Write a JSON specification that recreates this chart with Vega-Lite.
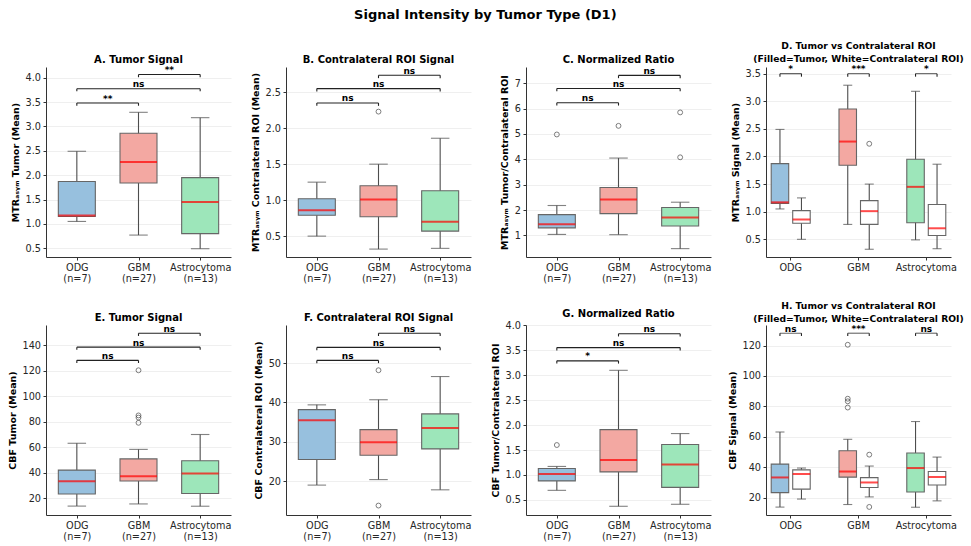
{
 "$schema": "https://vega.github.io/schema/vega-lite/v6.json",
 "padding": {"left": 7, "top": 9, "right": 5, "bottom": 5},
 "title": {"text": "Signal Intensity by Tumor Type (D1)", "fontSize": 13, "offset": 20, "anchor": "middle"},
 "columns": 4,
 "spacing": {"row": 68, "column": 55},
 "bounds": "flush",
 "datasets": {
  "boxes": [
   {"panel":"A","group":"ODG","series":"Tumor","lo":1.05,"q1":1.15,"med":1.17,"q3":1.87,"hi":2.49},
   {"panel":"A","group":"GBM","series":"Tumor","lo":0.77,"q1":1.84,"med":2.27,"q3":2.86,"hi":3.29},
   {"panel":"A","group":"Astrocytoma","series":"Tumor","lo":0.49,"q1":0.80,"med":1.45,"q3":1.95,"hi":3.18},
   {"panel":"B","group":"ODG","series":"Contra","lo":0.50,"q1":0.79,"med":0.86,"q3":1.02,"hi":1.25},
   {"panel":"B","group":"GBM","series":"Contra","lo":0.32,"q1":0.77,"med":1.01,"q3":1.20,"hi":1.50},
   {"panel":"B","group":"Astrocytoma","series":"Contra","lo":0.33,"q1":0.57,"med":0.70,"q3":1.13,"hi":1.86},
   {"panel":"C","group":"ODG","series":"Ratio","lo":1.04,"q1":1.30,"med":1.44,"q3":1.82,"hi":2.18},
   {"panel":"C","group":"GBM","series":"Ratio","lo":1.03,"q1":1.86,"med":2.42,"q3":2.89,"hi":4.05},
   {"panel":"C","group":"Astrocytoma","series":"Ratio","lo":0.48,"q1":1.37,"med":1.71,"q3":2.10,"hi":2.31},
   {"panel":"D","group":"ODG","series":"Tumor","lo":1.05,"q1":1.15,"med":1.17,"q3":1.87,"hi":2.49},
   {"panel":"D","group":"GBM","series":"Tumor","lo":0.77,"q1":1.84,"med":2.27,"q3":2.86,"hi":3.29},
   {"panel":"D","group":"Astrocytoma","series":"Tumor","lo":0.49,"q1":0.80,"med":1.45,"q3":1.95,"hi":3.18},
   {"panel":"D","group":"ODG","series":"Contra","lo":0.50,"q1":0.79,"med":0.86,"q3":1.02,"hi":1.25},
   {"panel":"D","group":"GBM","series":"Contra","lo":0.32,"q1":0.77,"med":1.01,"q3":1.20,"hi":1.50},
   {"panel":"D","group":"Astrocytoma","series":"Contra","lo":0.33,"q1":0.57,"med":0.70,"q3":1.13,"hi":1.86},
   {"panel":"E","group":"ODG","series":"Tumor","lo":13.7,"q1":23.2,"med":33.2,"q3":42.0,"hi":63.1},
   {"panel":"E","group":"GBM","series":"Tumor","lo":15.4,"q1":33.4,"med":37.1,"q3":50.8,"hi":58.3},
   {"panel":"E","group":"Astrocytoma","series":"Tumor","lo":13.6,"q1":23.6,"med":39.4,"q3":49.3,"hi":70.0},
   {"panel":"F","group":"ODG","series":"Contra","lo":19.0,"q1":25.5,"med":35.5,"q3":38.2,"hi":39.4},
   {"panel":"F","group":"GBM","series":"Contra","lo":20.4,"q1":26.6,"med":29.9,"q3":33.1,"hi":40.7},
   {"panel":"F","group":"Astrocytoma","series":"Contra","lo":17.8,"q1":28.2,"med":33.5,"q3":37.1,"hi":46.6},
   {"panel":"G","group":"ODG","series":"Ratio","lo":0.69,"q1":0.88,"med":1.02,"q3":1.13,"hi":1.17},
   {"panel":"G","group":"GBM","series":"Ratio","lo":0.37,"q1":1.06,"med":1.30,"q3":1.91,"hi":3.10},
   {"panel":"G","group":"Astrocytoma","series":"Ratio","lo":0.41,"q1":0.75,"med":1.21,"q3":1.61,"hi":1.83},
   {"panel":"H","group":"ODG","series":"Tumor","lo":13.7,"q1":23.2,"med":33.2,"q3":42.0,"hi":63.1},
   {"panel":"H","group":"GBM","series":"Tumor","lo":15.4,"q1":33.4,"med":37.1,"q3":50.8,"hi":58.3},
   {"panel":"H","group":"Astrocytoma","series":"Tumor","lo":13.6,"q1":23.6,"med":39.4,"q3":49.3,"hi":70.0},
   {"panel":"H","group":"ODG","series":"Contra","lo":19.0,"q1":25.5,"med":35.5,"q3":38.2,"hi":39.4},
   {"panel":"H","group":"GBM","series":"Contra","lo":20.4,"q1":26.6,"med":29.9,"q3":33.1,"hi":40.7},
   {"panel":"H","group":"Astrocytoma","series":"Contra","lo":17.8,"q1":28.2,"med":33.5,"q3":37.1,"hi":46.6}
  ],
  "outliers": [
   {"panel":"B","group":"GBM","series":"Contra","value":2.23},
   {"panel":"C","group":"ODG","series":"Ratio","value":4.98},
   {"panel":"C","group":"GBM","series":"Ratio","value":5.32},
   {"panel":"C","group":"Astrocytoma","series":"Ratio","value":5.85},
   {"panel":"C","group":"Astrocytoma","series":"Ratio","value":4.08},
   {"panel":"D","group":"GBM","series":"Contra","value":2.23},
   {"panel":"E","group":"GBM","series":"Tumor","value":120.5},
   {"panel":"E","group":"GBM","series":"Tumor","value":85.0},
   {"panel":"E","group":"GBM","series":"Tumor","value":83.3},
   {"panel":"E","group":"GBM","series":"Tumor","value":79.2},
   {"panel":"F","group":"GBM","series":"Contra","value":48.2},
   {"panel":"F","group":"GBM","series":"Contra","value":13.8},
   {"panel":"G","group":"ODG","series":"Ratio","value":1.60},
   {"panel":"H","group":"GBM","series":"Tumor","value":120.5},
   {"panel":"H","group":"GBM","series":"Tumor","value":85.0},
   {"panel":"H","group":"GBM","series":"Tumor","value":83.3},
   {"panel":"H","group":"GBM","series":"Tumor","value":79.2},
   {"panel":"H","group":"GBM","series":"Contra","value":48.2},
   {"panel":"H","group":"GBM","series":"Contra","value":13.8}
  ],
  "brackets": [
   {"panel":"A","g1":"ODG","g2":"GBM","mid":"ODG-GBM","y":3.48,"tip":3.425,"label":"**"},
   {"panel":"A","g1":"ODG","g2":"Astrocytoma","mid":"GBM","y":3.775,"tip":3.72,"label":"ns"},
   {"panel":"A","g1":"GBM","g2":"Astrocytoma","mid":"GBM-Astrocytoma","y":4.065,"tip":4.01,"label":"**"},
   {"panel":"B","g1":"ODG","g2":"GBM","mid":"ODG-GBM","y":2.35,"tip":2.31,"label":"ns"},
   {"panel":"B","g1":"ODG","g2":"Astrocytoma","mid":"GBM","y":2.55,"tip":2.51,"label":"ns"},
   {"panel":"B","g1":"GBM","g2":"Astrocytoma","mid":"GBM-Astrocytoma","y":2.735,"tip":2.695,"label":"ns"},
   {"panel":"C","g1":"ODG","g2":"GBM","mid":"ODG-GBM","y":6.23,"tip":6.12,"label":"ns"},
   {"panel":"C","g1":"ODG","g2":"Astrocytoma","mid":"GBM","y":6.79,"tip":6.68,"label":"ns"},
   {"panel":"C","g1":"GBM","g2":"Astrocytoma","mid":"GBM-Astrocytoma","y":7.31,"tip":7.2,"label":"ns"},
   {"panel":"E","g1":"ODG","g2":"GBM","mid":"ODG-GBM","y":128.3,"tip":126.2,"label":"ns"},
   {"panel":"E","g1":"ODG","g2":"Astrocytoma","mid":"GBM","y":138.7,"tip":136.6,"label":"ns"},
   {"panel":"E","g1":"GBM","g2":"Astrocytoma","mid":"GBM-Astrocytoma","y":149.6,"tip":147.5,"label":"ns"},
   {"panel":"F","g1":"ODG","g2":"GBM","mid":"ODG-GBM","y":50.7,"tip":50.0,"label":"ns"},
   {"panel":"F","g1":"ODG","g2":"Astrocytoma","mid":"GBM","y":54.0,"tip":53.3,"label":"ns"},
   {"panel":"F","g1":"GBM","g2":"Astrocytoma","mid":"GBM-Astrocytoma","y":57.6,"tip":56.9,"label":"ns"},
   {"panel":"G","g1":"ODG","g2":"GBM","mid":"ODG-GBM","y":3.29,"tip":3.235,"label":"*"},
   {"panel":"G","g1":"ODG","g2":"Astrocytoma","mid":"GBM","y":3.556,"tip":3.5,"label":"ns"},
   {"panel":"G","g1":"GBM","g2":"Astrocytoma","mid":"GBM-Astrocytoma","y":3.834,"tip":3.78,"label":"ns"}
  ],
  "pairs": [
   {"panel":"D","group":"ODG","left":"Tumor","right":"Contra","y":3.5,"tip":3.445,"label":"*"},
   {"panel":"D","group":"GBM","left":"Tumor","right":"Contra","y":3.5,"tip":3.445,"label":"***"},
   {"panel":"D","group":"Astrocytoma","left":"Tumor","right":"Contra","y":3.5,"tip":3.445,"label":"*"},
   {"panel":"H","group":"ODG","left":"Tumor","right":"Contra","y":128.1,"tip":126.3,"label":"ns"},
   {"panel":"H","group":"GBM","left":"Tumor","right":"Contra","y":128.1,"tip":126.3,"label":"***"},
   {"panel":"H","group":"Astrocytoma","left":"Tumor","right":"Contra","y":128.1,"tip":126.3,"label":"ns"}
  ]
 },
 "concat": [
  {"width":185,"height":190,"title":{"text":"A. Tumor Signal"},
   "layer":[
    {"data":{"name":"boxes"},"transform":[{"filter":"datum.panel=='A'"}],
     "mark":{"type":"rule","color":"#4d4d4d","strokeWidth":1.1},
     "encoding":{
      "x":{"field":"group","type":"nominal","scale":{"type":"point","domain":["ODG","ODG-GBM","GBM","GBM-Astrocytoma","Astrocytoma"],"padding":1},"axis":{"values":["ODG","GBM","Astrocytoma"],"labelExpr":"datum.value=='ODG'?['ODG','(n=7)']:datum.value=='GBM'?['GBM','(n=27)']:['Astrocytoma','(n=13)']","title":null}},
      "y":{"field":"lo","type":"quantitative","scale":{"domain":[0.32,4.22],"nice":false,"zero":false},"axis":{"values":[0.5,1,1.5,2,2.5,3,3.5,4],"tickCount":30,"format":".1f","title":"MTRₐₛᵧₘ Tumor (Mean)"}},
      "y2":{"field":"hi"}}},
    {"data":{"name":"boxes"},"transform":[{"filter":"datum.panel=='A'"},{"fold":["lo","hi"],"as":["end","v"]}],
     "mark":{"type":"tick","color":"#4d4d4d","thickness":1.1,"size":18.5},
     "encoding":{"x":{"field":"group","type":"nominal"},"y":{"field":"v","type":"quantitative"}}},
    {"data":{"name":"boxes"},"transform":[{"filter":"datum.panel=='A'"}],
     "mark":{"type":"bar","width":37,"stroke":"#666666","strokeWidth":1.1},
     "encoding":{"x":{"field":"group","type":"nominal"},"y":{"field":"q1","type":"quantitative"},"y2":{"field":"q3"},
      "color":{"field":"group","type":"nominal","scale":{"domain":["ODG","GBM","Astrocytoma"],"range":["#97c0de","#f3a8a2","#9de6ba"]},"legend":null}}},
    {"data":{"name":"boxes"},"transform":[{"filter":"datum.panel=='A'"}],
     "mark":{"type":"tick","color":"#ff0000","thickness":2,"size":37},
     "encoding":{"x":{"field":"group","type":"nominal"},"y":{"field":"med","type":"quantitative"}}},
    {"data":{"name":"outliers"},"transform":[{"filter":"datum.panel=='A'"}],
     "mark":{"type":"point","shape":"circle","filled":false,"color":"#333333","size":24,"strokeWidth":0.9},
     "encoding":{"x":{"field":"group","type":"nominal"},"y":{"field":"value","type":"quantitative"}}},
    {"data":{"name":"brackets"},"transform":[{"filter":"datum.panel=='A'"}],
     "mark":{"type":"rule","color":"#222222","strokeWidth":1.1},
     "encoding":{"x":{"field":"g1","type":"nominal"},"x2":{"field":"g2"},"y":{"field":"y","type":"quantitative"}}},
    {"data":{"name":"brackets"},"transform":[{"filter":"datum.panel=='A'"},{"fold":["g1","g2"],"as":["end","gx"]}],
     "mark":{"type":"rule","color":"#222222","strokeWidth":1.1},
     "encoding":{"x":{"field":"gx","type":"nominal"},"y":{"field":"y","type":"quantitative"},"y2":{"field":"tip"}}},
    {"data":{"name":"brackets"},"transform":[{"filter":"datum.panel=='A'"}],
     "mark":{"type":"text","fontSize":9,"fontWeight":"bold","baseline":"alphabetic","dy":-1.5,"color":"#000"},
     "encoding":{"x":{"field":"mid","type":"nominal"},"y":{"field":"y","type":"quantitative"},"text":{"field":"label"}}}
   ]},
  {"width":185,"height":190,"title":{"text":"B. Contralateral ROI Signal"},
   "layer":[
    {"data":{"name":"boxes"},"transform":[{"filter":"datum.panel=='B'"}],
     "mark":{"type":"rule","color":"#4d4d4d","strokeWidth":1.1},
     "encoding":{
      "x":{"field":"group","type":"nominal","scale":{"type":"point","domain":["ODG","ODG-GBM","GBM","GBM-Astrocytoma","Astrocytoma"],"padding":1},"axis":{"values":["ODG","GBM","Astrocytoma"],"labelExpr":"datum.value=='ODG'?['ODG','(n=7)']:datum.value=='GBM'?['GBM','(n=27)']:['Astrocytoma','(n=13)']","title":null}},
      "y":{"field":"lo","type":"quantitative","scale":{"domain":[0.21,2.85],"nice":false,"zero":false},"axis":{"values":[0.5,1,1.5,2,2.5],"tickCount":30,"format":".1f","title":"MTRₐₛᵧₘ Contralateral ROI (Mean)"}},
      "y2":{"field":"hi"}}},
    {"data":{"name":"boxes"},"transform":[{"filter":"datum.panel=='B'"},{"fold":["lo","hi"],"as":["end","v"]}],
     "mark":{"type":"tick","color":"#4d4d4d","thickness":1.1,"size":18.5},
     "encoding":{"x":{"field":"group","type":"nominal"},"y":{"field":"v","type":"quantitative"}}},
    {"data":{"name":"boxes"},"transform":[{"filter":"datum.panel=='B'"}],
     "mark":{"type":"bar","width":37,"stroke":"#666666","strokeWidth":1.1},
     "encoding":{"x":{"field":"group","type":"nominal"},"y":{"field":"q1","type":"quantitative"},"y2":{"field":"q3"},
      "color":{"field":"group","type":"nominal","scale":{"domain":["ODG","GBM","Astrocytoma"],"range":["#97c0de","#f3a8a2","#9de6ba"]},"legend":null}}},
    {"data":{"name":"boxes"},"transform":[{"filter":"datum.panel=='B'"}],
     "mark":{"type":"tick","color":"#ff0000","thickness":2,"size":37},
     "encoding":{"x":{"field":"group","type":"nominal"},"y":{"field":"med","type":"quantitative"}}},
    {"data":{"name":"outliers"},"transform":[{"filter":"datum.panel=='B'"}],
     "mark":{"type":"point","shape":"circle","filled":false,"color":"#333333","size":24,"strokeWidth":0.9},
     "encoding":{"x":{"field":"group","type":"nominal"},"y":{"field":"value","type":"quantitative"}}},
    {"data":{"name":"brackets"},"transform":[{"filter":"datum.panel=='B'"}],
     "mark":{"type":"rule","color":"#222222","strokeWidth":1.1},
     "encoding":{"x":{"field":"g1","type":"nominal"},"x2":{"field":"g2"},"y":{"field":"y","type":"quantitative"}}},
    {"data":{"name":"brackets"},"transform":[{"filter":"datum.panel=='B'"},{"fold":["g1","g2"],"as":["end","gx"]}],
     "mark":{"type":"rule","color":"#222222","strokeWidth":1.1},
     "encoding":{"x":{"field":"gx","type":"nominal"},"y":{"field":"y","type":"quantitative"},"y2":{"field":"tip"}}},
    {"data":{"name":"brackets"},"transform":[{"filter":"datum.panel=='B'"}],
     "mark":{"type":"text","fontSize":9,"fontWeight":"bold","baseline":"alphabetic","dy":-1.5,"color":"#000"},
     "encoding":{"x":{"field":"mid","type":"nominal"},"y":{"field":"y","type":"quantitative"},"text":{"field":"label"}}}
   ]},
  {"width":185,"height":190,"title":{"text":"C. Normalized Ratio"},
   "layer":[
    {"data":{"name":"boxes"},"transform":[{"filter":"datum.panel=='C'"}],
     "mark":{"type":"rule","color":"#4d4d4d","strokeWidth":1.1},
     "encoding":{
      "x":{"field":"group","type":"nominal","scale":{"type":"point","domain":["ODG","ODG-GBM","GBM","GBM-Astrocytoma","Astrocytoma"],"padding":1},"axis":{"values":["ODG","GBM","Astrocytoma"],"labelExpr":"datum.value=='ODG'?['ODG','(n=7)']:datum.value=='GBM'?['GBM','(n=27)']:['Astrocytoma','(n=13)']","title":null}},
      "y":{"field":"lo","type":"quantitative","scale":{"domain":[0.15,7.64],"nice":false,"zero":false},"axis":{"values":[1,2,3,4,5,6,7],"tickCount":30,"format":"d","title":"MTRₐₛᵧₘ Tumor/Contralateral ROI"}},
      "y2":{"field":"hi"}}},
    {"data":{"name":"boxes"},"transform":[{"filter":"datum.panel=='C'"},{"fold":["lo","hi"],"as":["end","v"]}],
     "mark":{"type":"tick","color":"#4d4d4d","thickness":1.1,"size":18.5},
     "encoding":{"x":{"field":"group","type":"nominal"},"y":{"field":"v","type":"quantitative"}}},
    {"data":{"name":"boxes"},"transform":[{"filter":"datum.panel=='C'"}],
     "mark":{"type":"bar","width":37,"stroke":"#666666","strokeWidth":1.1},
     "encoding":{"x":{"field":"group","type":"nominal"},"y":{"field":"q1","type":"quantitative"},"y2":{"field":"q3"},
      "color":{"field":"group","type":"nominal","scale":{"domain":["ODG","GBM","Astrocytoma"],"range":["#97c0de","#f3a8a2","#9de6ba"]},"legend":null}}},
    {"data":{"name":"boxes"},"transform":[{"filter":"datum.panel=='C'"}],
     "mark":{"type":"tick","color":"#ff0000","thickness":2,"size":37},
     "encoding":{"x":{"field":"group","type":"nominal"},"y":{"field":"med","type":"quantitative"}}},
    {"data":{"name":"outliers"},"transform":[{"filter":"datum.panel=='C'"}],
     "mark":{"type":"point","shape":"circle","filled":false,"color":"#333333","size":24,"strokeWidth":0.9},
     "encoding":{"x":{"field":"group","type":"nominal"},"y":{"field":"value","type":"quantitative"}}},
    {"data":{"name":"brackets"},"transform":[{"filter":"datum.panel=='C'"}],
     "mark":{"type":"rule","color":"#222222","strokeWidth":1.1},
     "encoding":{"x":{"field":"g1","type":"nominal"},"x2":{"field":"g2"},"y":{"field":"y","type":"quantitative"}}},
    {"data":{"name":"brackets"},"transform":[{"filter":"datum.panel=='C'"},{"fold":["g1","g2"],"as":["end","gx"]}],
     "mark":{"type":"rule","color":"#222222","strokeWidth":1.1},
     "encoding":{"x":{"field":"gx","type":"nominal"},"y":{"field":"y","type":"quantitative"},"y2":{"field":"tip"}}},
    {"data":{"name":"brackets"},"transform":[{"filter":"datum.panel=='C'"}],
     "mark":{"type":"text","fontSize":9,"fontWeight":"bold","baseline":"alphabetic","dy":-1.5,"color":"#000"},
     "encoding":{"x":{"field":"mid","type":"nominal"},"y":{"field":"y","type":"quantitative"},"text":{"field":"label"}}}
   ]},
  {"width":185,"height":190,"title":{"text":["D. Tumor vs Contralateral ROI","(Filled=Tumor, White=Contralateral ROI)"],"fontSize":9.2,"offset":0.5},
   "layer":[
    {"data":{"name":"boxes"},"transform":[{"filter":"datum.panel=='D'"}],
     "mark":{"type":"rule","color":"#4d4d4d","strokeWidth":1.1},
     "encoding":{
      "x":{"field":"group","type":"nominal","scale":{"type":"band","domain":["ODG","GBM","Astrocytoma"],"paddingInner":0.271,"paddingOuter":0},"axis":{"title":null}},
      "xOffset":{"field":"series","type":"nominal","scale":{"domain":["Tumor","Contra"],"paddingInner":0,"paddingOuter":0.149}},
      "y":{"field":"lo","type":"quantitative","scale":{"domain":[0.18,3.62],"nice":false,"zero":false},"axis":{"values":[0.5,1,1.5,2,2.5,3,3.5],"tickCount":30,"format":".1f","title":"MTRₐₛᵧₘ Signal (Mean)"}},
      "y2":{"field":"hi"}}},
    {"data":{"name":"boxes"},"transform":[{"filter":"datum.panel=='D'"},{"fold":["lo","hi"],"as":["end","v"]}],
     "mark":{"type":"tick","color":"#4d4d4d","thickness":1.1,"size":9},
     "encoding":{"x":{"field":"group","type":"nominal"},"xOffset":{"field":"series","type":"nominal"},"y":{"field":"v","type":"quantitative"}}},
    {"data":{"name":"boxes"},"transform":[{"filter":"datum.panel=='D'"}],
     "mark":{"type":"bar","width":17.5,"stroke":"#666666","strokeWidth":1.1},
     "encoding":{"x":{"field":"group","type":"nominal"},"xOffset":{"field":"series","type":"nominal"},"y":{"field":"q1","type":"quantitative"},"y2":{"field":"q3"},
      "color":{"condition":{"test":"datum.series=='Contra'","value":"#ffffff"},"field":"group","type":"nominal","scale":{"domain":["ODG","GBM","Astrocytoma"],"range":["#97c0de","#f3a8a2","#9de6ba"]},"legend":null}}},
    {"data":{"name":"boxes"},"transform":[{"filter":"datum.panel=='D'"}],
     "mark":{"type":"tick","color":"#ff0000","thickness":2,"size":17.5},
     "encoding":{"x":{"field":"group","type":"nominal"},"xOffset":{"field":"series","type":"nominal"},"y":{"field":"med","type":"quantitative"}}},
    {"data":{"name":"outliers"},"transform":[{"filter":"datum.panel=='D'"}],
     "mark":{"type":"point","shape":"circle","filled":false,"color":"#333333","size":24,"strokeWidth":0.9},
     "encoding":{"x":{"field":"group","type":"nominal"},"xOffset":{"field":"series","type":"nominal"},"y":{"field":"value","type":"quantitative"}}},
    {"data":{"name":"pairs"},"transform":[{"filter":"datum.panel=='D'"}],
     "mark":{"type":"tick","color":"#222222","thickness":1.1,"size":21.5},
     "encoding":{"x":{"field":"group","type":"nominal"},"y":{"field":"y","type":"quantitative"}}},
    {"data":{"name":"pairs"},"transform":[{"filter":"datum.panel=='D'"},{"fold":["left","right"],"as":["end","side"]}],
     "mark":{"type":"rule","color":"#222222","strokeWidth":1.1},
     "encoding":{"x":{"field":"group","type":"nominal"},"xOffset":{"field":"side","type":"nominal"},"y":{"field":"y","type":"quantitative"},"y2":{"field":"tip"}}},
    {"data":{"name":"pairs"},"transform":[{"filter":"datum.panel=='D'"}],
     "mark":{"type":"text","fontSize":9,"fontWeight":"bold","baseline":"alphabetic","dy":-1.5,"color":"#000"},
     "encoding":{"x":{"field":"group","type":"nominal"},"y":{"field":"y","type":"quantitative"},"text":{"field":"label"}}}
   ]},
  {"width":185,"height":190,"title":{"text":"E. Tumor Signal"},
   "layer":[
    {"data":{"name":"boxes"},"transform":[{"filter":"datum.panel=='E'"}],
     "mark":{"type":"rule","color":"#4d4d4d","strokeWidth":1.1},
     "encoding":{
      "x":{"field":"group","type":"nominal","scale":{"type":"point","domain":["ODG","ODG-GBM","GBM","GBM-Astrocytoma","Astrocytoma"],"padding":1},"axis":{"values":["ODG","GBM","Astrocytoma"],"labelExpr":"datum.value=='ODG'?['ODG','(n=7)']:datum.value=='GBM'?['GBM','(n=27)']:['Astrocytoma','(n=13)']","title":null}},
      "y":{"field":"lo","type":"quantitative","scale":{"domain":[6.7,156.1],"nice":false,"zero":false},"axis":{"values":[20,40,60,80,100,120,140],"tickCount":30,"format":"d","title":"CBF Tumor (Mean)"}},
      "y2":{"field":"hi"}}},
    {"data":{"name":"boxes"},"transform":[{"filter":"datum.panel=='E'"},{"fold":["lo","hi"],"as":["end","v"]}],
     "mark":{"type":"tick","color":"#4d4d4d","thickness":1.1,"size":18.5},
     "encoding":{"x":{"field":"group","type":"nominal"},"y":{"field":"v","type":"quantitative"}}},
    {"data":{"name":"boxes"},"transform":[{"filter":"datum.panel=='E'"}],
     "mark":{"type":"bar","width":37,"stroke":"#666666","strokeWidth":1.1},
     "encoding":{"x":{"field":"group","type":"nominal"},"y":{"field":"q1","type":"quantitative"},"y2":{"field":"q3"},
      "color":{"field":"group","type":"nominal","scale":{"domain":["ODG","GBM","Astrocytoma"],"range":["#97c0de","#f3a8a2","#9de6ba"]},"legend":null}}},
    {"data":{"name":"boxes"},"transform":[{"filter":"datum.panel=='E'"}],
     "mark":{"type":"tick","color":"#ff0000","thickness":2,"size":37},
     "encoding":{"x":{"field":"group","type":"nominal"},"y":{"field":"med","type":"quantitative"}}},
    {"data":{"name":"outliers"},"transform":[{"filter":"datum.panel=='E'"}],
     "mark":{"type":"point","shape":"circle","filled":false,"color":"#333333","size":24,"strokeWidth":0.9},
     "encoding":{"x":{"field":"group","type":"nominal"},"y":{"field":"value","type":"quantitative"}}},
    {"data":{"name":"brackets"},"transform":[{"filter":"datum.panel=='E'"}],
     "mark":{"type":"rule","color":"#222222","strokeWidth":1.1},
     "encoding":{"x":{"field":"g1","type":"nominal"},"x2":{"field":"g2"},"y":{"field":"y","type":"quantitative"}}},
    {"data":{"name":"brackets"},"transform":[{"filter":"datum.panel=='E'"},{"fold":["g1","g2"],"as":["end","gx"]}],
     "mark":{"type":"rule","color":"#222222","strokeWidth":1.1},
     "encoding":{"x":{"field":"gx","type":"nominal"},"y":{"field":"y","type":"quantitative"},"y2":{"field":"tip"}}},
    {"data":{"name":"brackets"},"transform":[{"filter":"datum.panel=='E'"}],
     "mark":{"type":"text","fontSize":9,"fontWeight":"bold","baseline":"alphabetic","dy":-1.5,"color":"#000"},
     "encoding":{"x":{"field":"mid","type":"nominal"},"y":{"field":"y","type":"quantitative"},"text":{"field":"label"}}}
   ]},
  {"width":185,"height":190,"title":{"text":"F. Contralateral ROI Signal"},
   "layer":[
    {"data":{"name":"boxes"},"transform":[{"filter":"datum.panel=='F'"}],
     "mark":{"type":"rule","color":"#4d4d4d","strokeWidth":1.1},
     "encoding":{
      "x":{"field":"group","type":"nominal","scale":{"type":"point","domain":["ODG","ODG-GBM","GBM","GBM-Astrocytoma","Astrocytoma"],"padding":1},"axis":{"values":["ODG","GBM","Astrocytoma"],"labelExpr":"datum.value=='ODG'?['ODG','(n=7)']:datum.value=='GBM'?['GBM','(n=27)']:['Astrocytoma','(n=13)']","title":null}},
      "y":{"field":"lo","type":"quantitative","scale":{"domain":[11.4,59.7],"nice":false,"zero":false},"axis":{"values":[20,30,40,50],"tickCount":30,"format":"d","title":"CBF Contralateral ROI (Mean)"}},
      "y2":{"field":"hi"}}},
    {"data":{"name":"boxes"},"transform":[{"filter":"datum.panel=='F'"},{"fold":["lo","hi"],"as":["end","v"]}],
     "mark":{"type":"tick","color":"#4d4d4d","thickness":1.1,"size":18.5},
     "encoding":{"x":{"field":"group","type":"nominal"},"y":{"field":"v","type":"quantitative"}}},
    {"data":{"name":"boxes"},"transform":[{"filter":"datum.panel=='F'"}],
     "mark":{"type":"bar","width":37,"stroke":"#666666","strokeWidth":1.1},
     "encoding":{"x":{"field":"group","type":"nominal"},"y":{"field":"q1","type":"quantitative"},"y2":{"field":"q3"},
      "color":{"field":"group","type":"nominal","scale":{"domain":["ODG","GBM","Astrocytoma"],"range":["#97c0de","#f3a8a2","#9de6ba"]},"legend":null}}},
    {"data":{"name":"boxes"},"transform":[{"filter":"datum.panel=='F'"}],
     "mark":{"type":"tick","color":"#ff0000","thickness":2,"size":37},
     "encoding":{"x":{"field":"group","type":"nominal"},"y":{"field":"med","type":"quantitative"}}},
    {"data":{"name":"outliers"},"transform":[{"filter":"datum.panel=='F'"}],
     "mark":{"type":"point","shape":"circle","filled":false,"color":"#333333","size":24,"strokeWidth":0.9},
     "encoding":{"x":{"field":"group","type":"nominal"},"y":{"field":"value","type":"quantitative"}}},
    {"data":{"name":"brackets"},"transform":[{"filter":"datum.panel=='F'"}],
     "mark":{"type":"rule","color":"#222222","strokeWidth":1.1},
     "encoding":{"x":{"field":"g1","type":"nominal"},"x2":{"field":"g2"},"y":{"field":"y","type":"quantitative"}}},
    {"data":{"name":"brackets"},"transform":[{"filter":"datum.panel=='F'"},{"fold":["g1","g2"],"as":["end","gx"]}],
     "mark":{"type":"rule","color":"#222222","strokeWidth":1.1},
     "encoding":{"x":{"field":"gx","type":"nominal"},"y":{"field":"y","type":"quantitative"},"y2":{"field":"tip"}}},
    {"data":{"name":"brackets"},"transform":[{"filter":"datum.panel=='F'"}],
     "mark":{"type":"text","fontSize":9,"fontWeight":"bold","baseline":"alphabetic","dy":-1.5,"color":"#000"},
     "encoding":{"x":{"field":"mid","type":"nominal"},"y":{"field":"y","type":"quantitative"},"text":{"field":"label"}}}
   ]},
  {"width":185,"height":190,"title":{"text":"G. Normalized Ratio"},
   "layer":[
    {"data":{"name":"boxes"},"transform":[{"filter":"datum.panel=='G'"}],
     "mark":{"type":"rule","color":"#4d4d4d","strokeWidth":1.1},
     "encoding":{
      "x":{"field":"group","type":"nominal","scale":{"type":"point","domain":["ODG","ODG-GBM","GBM","GBM-Astrocytoma","Astrocytoma"],"padding":1},"axis":{"values":["ODG","GBM","Astrocytoma"],"labelExpr":"datum.value=='ODG'?['ODG','(n=7)']:datum.value=='GBM'?['GBM','(n=27)']:['Astrocytoma','(n=13)']","title":null}},
      "y":{"field":"lo","type":"quantitative","scale":{"domain":[0.195,4.01],"nice":false,"zero":false},"axis":{"values":[0.5,1,1.5,2,2.5,3,3.5,4],"tickCount":30,"format":".1f","title":"CBF Tumor/Contralateral ROI"}},
      "y2":{"field":"hi"}}},
    {"data":{"name":"boxes"},"transform":[{"filter":"datum.panel=='G'"},{"fold":["lo","hi"],"as":["end","v"]}],
     "mark":{"type":"tick","color":"#4d4d4d","thickness":1.1,"size":18.5},
     "encoding":{"x":{"field":"group","type":"nominal"},"y":{"field":"v","type":"quantitative"}}},
    {"data":{"name":"boxes"},"transform":[{"filter":"datum.panel=='G'"}],
     "mark":{"type":"bar","width":37,"stroke":"#666666","strokeWidth":1.1},
     "encoding":{"x":{"field":"group","type":"nominal"},"y":{"field":"q1","type":"quantitative"},"y2":{"field":"q3"},
      "color":{"field":"group","type":"nominal","scale":{"domain":["ODG","GBM","Astrocytoma"],"range":["#97c0de","#f3a8a2","#9de6ba"]},"legend":null}}},
    {"data":{"name":"boxes"},"transform":[{"filter":"datum.panel=='G'"}],
     "mark":{"type":"tick","color":"#ff0000","thickness":2,"size":37},
     "encoding":{"x":{"field":"group","type":"nominal"},"y":{"field":"med","type":"quantitative"}}},
    {"data":{"name":"outliers"},"transform":[{"filter":"datum.panel=='G'"}],
     "mark":{"type":"point","shape":"circle","filled":false,"color":"#333333","size":24,"strokeWidth":0.9},
     "encoding":{"x":{"field":"group","type":"nominal"},"y":{"field":"value","type":"quantitative"}}},
    {"data":{"name":"brackets"},"transform":[{"filter":"datum.panel=='G'"}],
     "mark":{"type":"rule","color":"#222222","strokeWidth":1.1},
     "encoding":{"x":{"field":"g1","type":"nominal"},"x2":{"field":"g2"},"y":{"field":"y","type":"quantitative"}}},
    {"data":{"name":"brackets"},"transform":[{"filter":"datum.panel=='G'"},{"fold":["g1","g2"],"as":["end","gx"]}],
     "mark":{"type":"rule","color":"#222222","strokeWidth":1.1},
     "encoding":{"x":{"field":"gx","type":"nominal"},"y":{"field":"y","type":"quantitative"},"y2":{"field":"tip"}}},
    {"data":{"name":"brackets"},"transform":[{"filter":"datum.panel=='G'"}],
     "mark":{"type":"text","fontSize":9,"fontWeight":"bold","baseline":"alphabetic","dy":-1.5,"color":"#000"},
     "encoding":{"x":{"field":"mid","type":"nominal"},"y":{"field":"y","type":"quantitative"},"text":{"field":"label"}}}
   ]},
  {"width":185,"height":190,"title":{"text":["H. Tumor vs Contralateral ROI","(Filled=Tumor, White=Contralateral ROI)"],"fontSize":9.2,"offset":0.5},
   "layer":[
    {"data":{"name":"boxes"},"transform":[{"filter":"datum.panel=='H'"}],
     "mark":{"type":"rule","color":"#4d4d4d","strokeWidth":1.1},
     "encoding":{
      "x":{"field":"group","type":"nominal","scale":{"type":"band","domain":["ODG","GBM","Astrocytoma"],"paddingInner":0.271,"paddingOuter":0},"axis":{"title":null}},
      "xOffset":{"field":"series","type":"nominal","scale":{"domain":["Tumor","Contra"],"paddingInner":0,"paddingOuter":0.149}},
      "y":{"field":"lo","type":"quantitative","scale":{"domain":[8.5,133.5],"nice":false,"zero":false},"axis":{"values":[20,40,60,80,100,120],"tickCount":30,"format":"d","title":"CBF Signal (Mean)"}},
      "y2":{"field":"hi"}}},
    {"data":{"name":"boxes"},"transform":[{"filter":"datum.panel=='H'"},{"fold":["lo","hi"],"as":["end","v"]}],
     "mark":{"type":"tick","color":"#4d4d4d","thickness":1.1,"size":9},
     "encoding":{"x":{"field":"group","type":"nominal"},"xOffset":{"field":"series","type":"nominal"},"y":{"field":"v","type":"quantitative"}}},
    {"data":{"name":"boxes"},"transform":[{"filter":"datum.panel=='H'"}],
     "mark":{"type":"bar","width":17.5,"stroke":"#666666","strokeWidth":1.1},
     "encoding":{"x":{"field":"group","type":"nominal"},"xOffset":{"field":"series","type":"nominal"},"y":{"field":"q1","type":"quantitative"},"y2":{"field":"q3"},
      "color":{"condition":{"test":"datum.series=='Contra'","value":"#ffffff"},"field":"group","type":"nominal","scale":{"domain":["ODG","GBM","Astrocytoma"],"range":["#97c0de","#f3a8a2","#9de6ba"]},"legend":null}}},
    {"data":{"name":"boxes"},"transform":[{"filter":"datum.panel=='H'"}],
     "mark":{"type":"tick","color":"#ff0000","thickness":2,"size":17.5},
     "encoding":{"x":{"field":"group","type":"nominal"},"xOffset":{"field":"series","type":"nominal"},"y":{"field":"med","type":"quantitative"}}},
    {"data":{"name":"outliers"},"transform":[{"filter":"datum.panel=='H'"}],
     "mark":{"type":"point","shape":"circle","filled":false,"color":"#333333","size":24,"strokeWidth":0.9},
     "encoding":{"x":{"field":"group","type":"nominal"},"xOffset":{"field":"series","type":"nominal"},"y":{"field":"value","type":"quantitative"}}},
    {"data":{"name":"pairs"},"transform":[{"filter":"datum.panel=='H'"}],
     "mark":{"type":"tick","color":"#222222","thickness":1.1,"size":21.5},
     "encoding":{"x":{"field":"group","type":"nominal"},"y":{"field":"y","type":"quantitative"}}},
    {"data":{"name":"pairs"},"transform":[{"filter":"datum.panel=='H'"},{"fold":["left","right"],"as":["end","side"]}],
     "mark":{"type":"rule","color":"#222222","strokeWidth":1.1},
     "encoding":{"x":{"field":"group","type":"nominal"},"xOffset":{"field":"side","type":"nominal"},"y":{"field":"y","type":"quantitative"},"y2":{"field":"tip"}}},
    {"data":{"name":"pairs"},"transform":[{"filter":"datum.panel=='H'"}],
     "mark":{"type":"text","fontSize":9,"fontWeight":"bold","baseline":"alphabetic","dy":-1.5,"color":"#000"},
     "encoding":{"x":{"field":"group","type":"nominal"},"y":{"field":"y","type":"quantitative"},"text":{"field":"label"}}}
   ]}
 ],
 "config": {
  "font": "DejaVu Sans",
  "view": {"stroke": null},
  "title": {"font": "DejaVu Sans", "fontSize": 10, "fontWeight": "bold", "color": "#000000", "offset": 1.5, "lineHeight": 13},
  "axis": {"labelFont": "DejaVu Sans", "labelFontSize": 9.7, "labelColor": "#262626", "labelOverlap": false, "titleFont": "DejaVu Sans", "titleFontSize": 9.5, "titleFontWeight": "bold", "titleColor": "#000000", "domainColor": "#333333", "domainWidth": 1, "tickColor": "#333333", "tickSize": 3, "labelPadding": 2.5, "gridColor": "#ebebeb", "gridWidth": 0.8},
  "axisX": {"grid": false, "labelAngle": 0, "labelLineHeight": 11},
  "axisY": {"grid": true, "titlePadding": 5}
 }
}
